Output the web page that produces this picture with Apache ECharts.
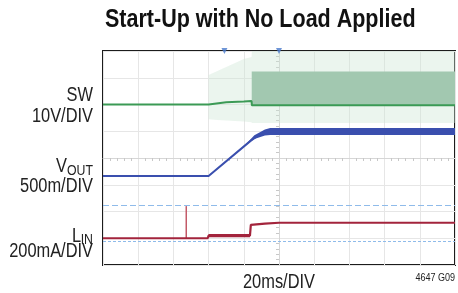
<!DOCTYPE html>
<html>
<head>
<meta charset="utf-8">
<script src="https://cdn.jsdelivr.net/npm/echarts@6/dist/echarts.min.js"></script>
<style>
  html, body { margin: 0; padding: 0; background: #fff; }
  #chart { width: 458px; height: 293px; }
</style>
</head>
<body>
<div id="chart"></div>
<script>
// scope screen: 10 x 8 divisions, time in ms, 20ms/DIV
const FONT = '"Liberation Sans", Arial, sans-serif';
const NARROW_X = 0.82; // squeeze Liberation Sans to look like a condensed face

// channel scales (units per division) and where each channel's zero sits (divisions from centre)
const swPerDiv = 10, swZero = 2;          // V
const voutPerDiv = 0.5, voutZero = -0.67; // V
const linPerDiv = 200, linZero = -3;      // mA

// SW trace
const swT = [-100, -40, -39.5, -30, -20, -15.6, -15.4, 100];
const swV = [0, 0, 0.4, 0.8, 1.1, 1.3, -0.3, -0.3];
// switching envelope (dense bursts)
const swBandT = [-15.5, 100];
const swBandLo = [-0.3, -0.3];
const swBandHi = [12.3, 12.3];
// faint spikes around the switching node
const swFaintT = [-40, -35, -30, -25, -20, -15.6, -15.4, 100];
const swFaintLo = [-5.5, -5.8, -6, -6.2, -6.4, -6.6, -6.9, -6.9];
const swFaintHi = [11, 12.5, 14, 15.5, 17, 17.8, 20, 20];

// VOUT trace
const voutT = [-100, -40, -16, -12, -8, -5, 100];
const voutV = [0, 0, 0.66, 0.75, 0.81, 0.83, 0.83];
// output ripple once it regulates
const voutRipT = [-20, -14, -8, -5, 100];
const voutRipLo = [0.55, 0.69, 0.755, 0.765, 0.765];
const voutRipHi = [0.55, 0.76, 0.87, 0.895, 0.895];

// inductor current
const linT = [-100, -40.5, -40, -16.5, -16, -8, 0, 100];
const linI = [0, 0, 20, 20, 100, 110, 116, 116];
const spikeT = [-52.8, -52.7, -52.6];
const spikeI = [0, 240, 0];
const linNoiseT = [-40, -16.5];
const linNoiseLo = [8, 8];
const linNoiseHi = [32, 32];
// cursor levels (mA)
const linCursors = [244, -26];

// trigger marks on top edge (ms)
const markT = [-31, 0];

const sw = v => swZero + v / swPerDiv;
const vout = v => voutZero + v / voutPerDiv;
const lin = v => linZero + v / linPerDiv;

function pairs(ts, vs, conv) {
    return ts.map((t, i) => [t, conv(vs[i])]);
}

// closed polygon between a low and a high edge
function band(ts, lo, hi, conv, color, z) {
    return {
        type: 'custom',
        coordinateSystem: 'cartesian2d',
        silent: true,
        clip: true,
        z: z,
        encode: { x: 0, y: [1, 2] },
        data: ts.map((t, i) => [t, conv(lo[i]), conv(hi[i])]),
        renderItem: function (params, api) {
            if (params.dataIndex !== 0) {
                return null;
            }
            const pts = [];
            for (let i = 0; i < ts.length; i++) {
                pts.push(api.coord([ts[i], conv(hi[i])]));
            }
            for (let i = ts.length - 1; i >= 0; i--) {
                pts.push(api.coord([ts[i], conv(lo[i])]));
            }
            return { type: 'polygon', shape: { points: pts }, style: { fill: color } };
        },
    };
}

function trace(ts, vs, conv, color, width, z) {
    return {
        type: 'line',
        data: pairs(ts, vs, conv),
        showSymbol: false,
        symbol: 'none',
        silent: true,
        z: z,
        lineStyle: { color: color, width: width },
    };
}

function label(text, x, y, size, align) {
    return {
        type: 'text',
        x: x,
        y: y,
        scaleX: NARROW_X,
        style: {
            text: text,
            font: size + 'px ' + FONT,
            fill: '#222',
            align: align,
            verticalAlign: 'middle',
        },
    };
}

const chart = echarts.init(document.getElementById('chart'), null, { renderer: 'canvas' });

const option = {
    animation: false,
    backgroundColor: '#fff',
    grid: {
        left: 103, right: 3, top: 51, bottom: 28,
        show: true,
        borderColor: '#1c1c1c',
        borderWidth: 2,
    },
    xAxis: {
        type: 'value',
        min: -100, max: 100, interval: 20,
        axisLine: { onZero: true, lineStyle: { color: '#d6d6d6', width: 1 } },
        axisTick: { show: false },
        minorTick: { show: true, splitNumber: 5, length: 3, lineStyle: { color: '#c8c8c8' } },
        axisLabel: { show: false },
        splitLine: { lineStyle: { color: '#e6e6e6', width: 1 } },
    },
    yAxis: {
        type: 'value',
        min: -4, max: 4, interval: 1,
        axisLine: { onZero: true, lineStyle: { color: '#d6d6d6', width: 1 } },
        axisTick: { show: false },
        minorTick: { show: true, splitNumber: 5, length: 3, lineStyle: { color: '#c8c8c8' } },
        axisLabel: { show: false },
        splitLine: { lineStyle: { color: '#e6e6e6', width: 1 } },
    },
    series: [
        band(swFaintT, swFaintLo, swFaintHi, sw, 'rgba(205, 230, 212, 0.4)', 1),
        band(swBandT, swBandLo, swBandHi, sw, '#a2c8b0', 2),
        trace(swT, swV, sw, '#3b9a55', 2, 3),
        band(voutRipT, voutRipLo, voutRipHi, vout, '#3a4fae', 4),
        trace(voutT, voutV, vout, '#3a4fae', 2, 5),
        {
            type: 'line',
            data: [],
            silent: true,
            z: 5,
            markLine: {
                silent: true,
                symbol: 'none',
                label: { show: false },
                lineStyle: { color: '#8fbbea', width: 1.2, opacity: 1 },
                data: [
                    { yAxis: lin(linCursors[0]), lineStyle: { color: '#8fbbea', type: [6, 3] } },
                    { yAxis: lin(linCursors[1]), lineStyle: { color: '#8fbbea', type: [3, 2] } },
                ],
            },
        },
        band(linNoiseT, linNoiseLo, linNoiseHi, lin, '#a3243c', 6),
        trace(spikeT, spikeI, lin, '#c0505f', 1, 6),
        trace(linT, linI, lin, '#a3243c', 2.2, 7),
        {
            type: 'scatter',
            data: markT.map(t => [t, 4]),
            symbol: 'triangle',
            symbolRotate: 180,
            symbolSize: 6,
            clip: false,
            silent: true,
            z: 8,
            itemStyle: { color: '#4a7bcc' },
        },
    ],
    graphic: [
        {
            type: 'text',
            x: 105,
            y: 20,
            scaleX: 0.86,
            style: {
                text: 'Start-Up with No Load Applied',
                font: 'bold 25px ' + FONT,
                fill: '#111',
                align: 'left',
                verticalAlign: 'middle',
            },
        },
        label('SW', 93, 95, 20, 'right'),
        label('10V/DIV', 93, 116, 20, 'right'),
        label('OUT', 93, 171, 15, 'right'),
        label('V', 67, 166, 20, 'right'),
        label('500m/DIV', 93, 186, 20, 'right'),
        label('IN', 93, 240, 15, 'right'),
        label('L', 81, 236, 20, 'right'),
        label('200mA/DIV', 93, 251, 20, 'right'),
        label('20ms/DIV', 279, 282, 20, 'center'),
        label('4647 G09', 455, 278, 11, 'right'),
    ],
};

chart.setOption(option);
</script>
</body>
</html>
